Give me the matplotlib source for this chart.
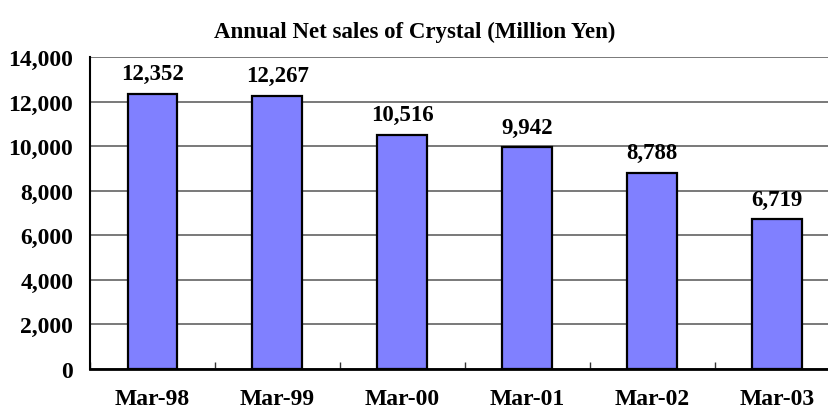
import matplotlib
matplotlib.use("Agg")
from matplotlib import pyplot as plt
import numpy as np

periods = ["Mar-98", "Mar-99", "Mar-00", "Mar-01", "Mar-02", "Mar-03"]
net_sales = [12352, 12267, 10516, 9942, 8788, 6719]
y_ticks = [0, 2000, 4000, 6000, 8000, 10000, 12000, 14000]

plt.rcParams['font.family'] = ['Liberation Serif', 'DejaVu Serif']
plt.rcParams['font.weight'] = 'bold'

fig = plt.figure(figsize=(8.29, 4.10), dpi=100)
ax = fig.add_axes([0.1086, 0.0976, 0.904, 0.761])

x = np.arange(len(periods))
ax.bar(x, net_sales, width=0.4, color='#8080FF', edgecolor='black', linewidth=1.6, zorder=3)

for xi, v in zip(x, net_sales):
    ax.annotate(f"{v:,}", (xi, v), xytext=(0, 7), textcoords='offset points',
                ha='center', va='bottom', fontsize=16.5, fontweight='bold')

ax.set_xlim(-0.5, len(periods) - 0.5)
ax.set_ylim(0, 14000)
ax.set_yticks(y_ticks)
ax.set_yticklabels([f"{t:,}" for t in y_ticks], fontsize=17, fontweight='bold')
ax.set_xticks(x)
ax.set_xticklabels(periods, fontsize=17, fontweight='bold')
ax.tick_params(axis='x', length=0, pad=14)
ax.tick_params(axis='y', length=0, pad=12)

# category separators as small inward ticks on the bottom axis
ax.set_xticks(np.arange(len(periods) + 1) - 0.5, minor=True)
ax.tick_params(axis='x', which='minor', direction='in', length=5, width=1, color='#333333')

ax.yaxis.grid(True, color='#6e6e6e', linewidth=1.3, zorder=0)
ax.spines['top'].set_visible(False)
ax.spines['right'].set_visible(False)
ax.spines['left'].set_linewidth(1.5)
ax.spines['bottom'].set_linewidth(2)

fig.text(0.5, 0.92, "Annual Net sales of Crystal (Million Yen)", ha='center', va='center',
         fontsize=16.5, fontweight='bold')

fig.savefig("out.png", dpi=100)
